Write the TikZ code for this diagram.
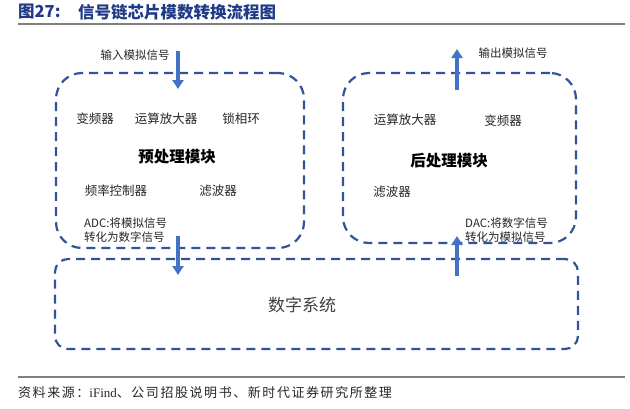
\documentclass[tikz,border=0pt]{standalone}
\usepackage{fontspec}
\setmainfont{Noto Sans CJK SC}
\newfontfamily\serifcjk{Liberation Serif}
\newfontfamily\sourcefont[LetterSpace=12]{Noto Sans CJK SC}
\usetikzlibrary{arrows.meta}
\definecolor{boxblue}{HTML}{2F5597}
\definecolor{arrowblue}{HTML}{4472C4}
\definecolor{titleblue}{HTML}{1F3A86}
\tikzset{
  dashbox/.style={draw=boxblue,line width=2.2pt,dash pattern=on 9pt off 6pt,rounded corners=26pt},
  flow/.style={draw=arrowblue,line width=3.2pt,-{Triangle[length=9pt,width=11pt]}},
  part/.style={text=black!85,inner sep=0pt,font=\fontsize{12.5}{14}\selectfont},
  note/.style={text=black!85,inner sep=0pt,align=left,font=\fontsize{11.5}{14}\selectfont},
  module/.style={text=black,inner sep=0pt,font=\fontsize{15.5}{17}\selectfont\bfseries},
}
\begin{document}
\begin{tikzpicture}[x=1pt,y=-1pt]
\useasboundingbox (0,0) rectangle (630,408);
% title and rules
\node[anchor=west,inner sep=0pt,text=titleblue,font=\fontsize{16.5}{18}\selectfont\bfseries] (fignum) at (18,12) {图27:};
\node[anchor=west,inner sep=0pt,text=titleblue,font=\fontsize{16.5}{18}\selectfont\bfseries] (figtitle) at (78,12) {信号链芯片模数转换流程图};
\draw[black!50,line width=2pt] (18,23.5) -- (625,23.5);
\draw[black!50,line width=2pt] (18,377) -- (625,377);
\node[anchor=west,inner sep=0pt,text=black!85,font=\fontsize{13}{15}\sourcefont] (source) at (18,393) {资料来源：{\serifcjk iFind}、公司招股说明书、新时代证券研究所整理};
% the three blocks
\node[dashbox,minimum width=248pt,minimum height=175pt] (pre) at (180,160.5) {};
\node[dashbox,minimum width=233pt,minimum height=170pt] (post) at (459.5,158) {};
\node[dashbox,rounded corners=13pt,minimum width=523pt,minimum height=90pt] (digital) at (316.5,304) {};
% preprocessing
\node[note] (inlabel) at (135,55) {输入模拟信号};
\node[part] (mixerA) at (95,119) {变频器};
\node[part] (ampA) at (166,119) {运算放大器};
\node[part] (pll) at (241,119) {锁相环};
\node[module] (pretitle) at (177,157) {预处理模块};
\node[part] (freqctl) at (116,191) {频率控制器};
\node[part] (filterA) at (218,191) {滤波器};
\node[note,anchor=west] (adc) at (84,230) {ADC:将模拟信号\\转化为数字信号};
% postprocessing
\node[note] (outlabel) at (513,53) {输出模拟信号};
\node[part] (ampB) at (405,120) {运算放大器};
\node[part] (mixerB) at (503,121) {变频器};
\node[module] (posttitle) at (449,161) {后处理模块};
\node[part] (filterB) at (392,192) {滤波器};
\node[note,anchor=west] (dac) at (465,230) {DAC:将数字信号\\转化为模拟信号};
% digital system
\node[text=black!75,inner sep=0pt,font=\fontsize{17}{19}\selectfont] (dsys) at (302,305) {数字系统};
% signal arrows
\coordinate (inA) at (178,51);
\coordinate (inB) at (178,89);
\coordinate (adcA) at (178,236);
\coordinate (adcB) at (178,275);
\coordinate (dacA) at (457,276);
\coordinate (dacB) at (457,236);
\coordinate (outA) at (457,90);
\coordinate (outB) at (457,49);
\draw[flow] (inA) -- (inB);
\draw[flow] (adcA) -- (adcB);
\draw[flow] (dacA) -- (dacB);
\draw[flow] (outA) -- (outB);
\end{tikzpicture}
\end{document}
